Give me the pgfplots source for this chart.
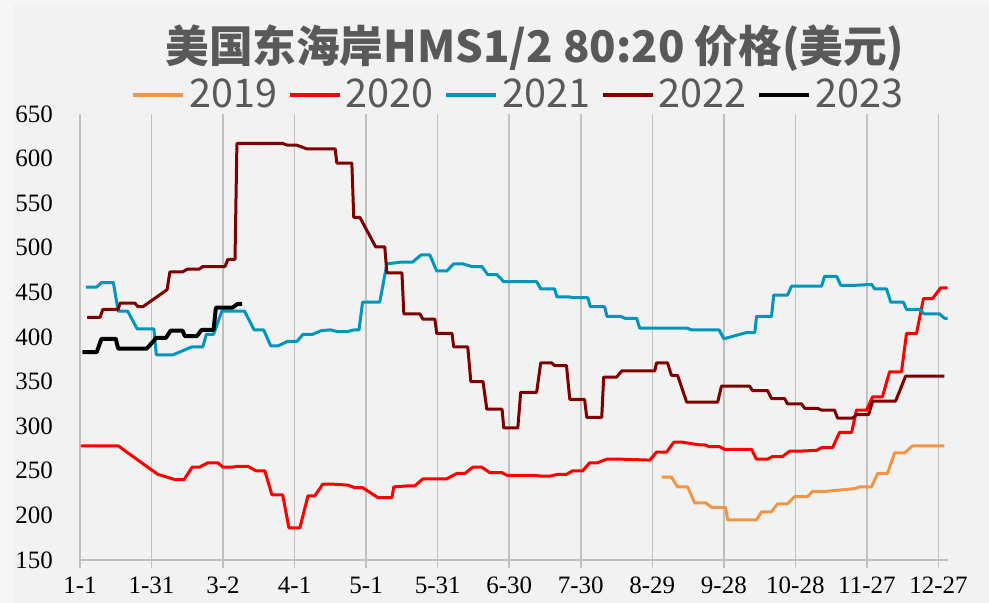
\documentclass[border=0pt]{standalone}
\usepackage{fontspec}
\setmainfont{Liberation Serif}
\newfontfamily\cjk{Noto Sans CJK SC}
\usepackage{pgfplots}
\pgfplotsset{compat=1.18}
\definecolor{bgout}{HTML}{F6F6F6}
\definecolor{bgin}{HTML}{F2F2F2}
\definecolor{txtgray}{HTML}{595959}
\definecolor{gridgray}{HTML}{C0C0C0}
\definecolor{c2019}{RGB}{240,150,70}
\definecolor{c2020}{RGB}{255,0,0}
\definecolor{c2021}{RGB}{0,150,190}
\definecolor{c2022}{RGB}{128,0,0}
\definecolor{c2023}{RGB}{0,0,0}
\begin{document}
\begin{tikzpicture}
\path[use as bounding box, fill=bgout] (-40pt,-21.5pt) rectangle (454.5pt,280pt);
\fill[bgin] (-33.5pt,-21.5pt) rectangle (454.5pt,278pt);
\begin{axis}[
  width=434pt, height=223pt, scale only axis,
  xmin=0, xmax=364, ymin=150, ymax=650,
  xtick={0,30,...,360},
  xticklabels={1-1,1-31,3-2,4-1,5-1,5-31,6-30,7-30,8-29,9-28,10-28,11-27,12-27},
  ytick={150,200,...,650},
  xmajorgrids,
  grid style={color=gridgray, line width=0.8pt},
  axis x line*=bottom,
  axis y line*=left,
  y axis line style={draw=none},
  x axis line style={color=gridgray, line width=0.8pt, -},
  xtick style={color=gridgray, line width=0.8pt},
  ytick style={draw=none},
  tick align=outside,
  major tick length=4pt,
  /pgf/number format/assume math mode=true,
  ticklabel style={font=\fontsize{12.5}{14}\selectfont, text=black},
  xticklabel style={yshift=-1pt},
  yticklabel style={xshift=-6pt},
  legend columns=5,
  legend style={at={(0.506,1.043)}, anchor=center, draw=none, fill=none,
    font=\cjk\fontsize{19.8}{22}\selectfont, text=txtgray,
    /tikz/every even column/.append style={column sep=3.1pt}},
  legend cell align=left,
  legend image code/.code={\draw[#1, line width=2.2pt] (0pt,0pt) -- (25pt,0pt);},
  every axis plot/.append style={line width=1.5pt, line join=round},
  clip=false,
]
\addplot[c2019] coordinates {
(243.9,243)(248,243)(250.6,232)(254.8,232)(257.8,214)(262.4,214)(264.9,209)(270.7,209)
(271.6,195)(283.7,195)(285.8,204)(290,204)(292.5,213)(296.7,213)(299.7,221)(305,221)
(307.2,227)(313,227)(324.8,230)(326.9,232)(331.9,232)(334.5,247)(338.6,247)(341.6,270)
(345.8,270)(349.1,278)(362.5,278)};
\addlegendentry{2019}
\addplot[c2020] coordinates {
(0.4,278)(16,278)(30,251)(32.7,246)(40,240)(43.6,240)(47,254)(50,254)(53.6,259)(57.8,259)
(60,254)(63.7,254)(66,255)(70.4,255)(73.8,250)(77.5,250)(80.5,223)(85,223)(87.6,186)(92.2,186)
(95.6,222)(98.5,222)(101.8,235)(106,235)(112.3,234)(115.3,231)(118.6,231)(124.9,220)(130.8,220)
(131.6,232)(137,233)(140.4,233)(143.8,241)(153.8,241)(158,247)(161.4,247)(164.7,254)(168.5,254)
(171.8,248)(176.9,248)(179,245)(189.9,245)(193.6,244)(197,244)(200.3,246)(204,246)(206.6,250)
(210.8,250)(213.7,259)(217,259)(220.9,263)(227.2,263)(238.9,262)(241.8,271)(246,271)(249,282)
(252.7,282)(259.9,279)(262,279)(264,277)(268.2,277)(270.3,274)(281.6,274)(283.7,263)(288.3,263)
(290.4,266)(294.6,266)(297.6,272)(301.8,272)(308.9,273)(311,276)(315.6,276)(318.5,293)(323.6,293)
(325.6,318)(329.8,318)(332.4,333)(336.5,333)(339.5,361)(344.5,361)(346.6,404)(350.8,404)
(353.7,443)(357.5,443)(360.9,455)(363.8,455)};
\addlegendentry{2020}
\addplot[c2021] coordinates {
(2.5,456)(7,456)(9,461)(14,461)(16,429)(20,429)(24,409)(31,409)(32,380)(39,380)(47,389)(51.5,389)
(53,403)(56,403)(59.5,429)(69,429)(73,408)(77,408)(80,390)(83,390)(87,395)(91,395)(93.5,403)
(97.5,403)(101,407)(105,408)(108,406)(112,406)(115,408)(117,408)(118.5,439)(125.7,439)(128.7,482)
(135,484)(139.5,484)(143,492)(146.7,492)(149.6,474)(153.8,474)(156.7,482)(160.5,482)(164.3,479)
(168.5,479)(171,470)(174.8,470)(177.7,462)(191.5,462)(193.2,454)(199,454)(200,445)(205,445)
(207,444)(213,444)(214,434)(220,434)(221,423)(227,423)(228.4,421)(233.4,421)(234.7,410)(254.4,410)
(256.5,408)(268,408)(270,398)(279.5,405)(283,405)(283.7,423)(290,423)(290.9,447)(296.7,447)
(298.4,457)(311,457)(312.2,468)(317.3,468)(319,458)(325.6,458)(332,459)(333.2,454)(338.2,454)
(340,439)(345.3,439)(346.6,431)(352,431)(354,426)(360.4,426)(362.5,421)(363.8,421)};
\addlegendentry{2021}
\addplot[c2022] coordinates {
(3,422)(8.4,422)(9.6,431)(16,431)(16.8,438)(23,438)(24.3,434)(26.4,434)(36.5,453)(37.7,473)
(43,473)(45,476)(50,476)(51.5,479)(60.8,479)(62,487)(65,487)(65.8,617)(85,617)(87,615)(91,615)
(95,611)(107,611)(107.7,595)(114,595)(114.8,534)(117.4,534)(124,501)(127.8,501)(128.7,472)
(135,472)(135.8,426)(142.5,426)(143.8,420)(148.8,420)(149.6,404)(156,404)(156.7,389)(162.6,389)
(163.9,350)(169,350)(170.6,319)(177,319)(177.7,298)(183.6,298)(184.8,338)(191.5,338)(193.2,371)
(197.8,371)(199,368)(204,368)(205.4,330)(211.6,330)(212.5,310)(218.8,310)(219.6,355)(225,355)
(227.2,362)(241,362)(241.8,371)(246.4,371)(248,357)(250.6,357)(254.4,327)(267.4,327)(269,345)
(280.8,345)(282,340)(288.3,340)(290,331)(295.5,331)(296.7,325)(302.6,325)(303.9,320)(309.3,320)
(311,318)(316.4,318)(317.7,309)(324,309)(325.6,313)(330.7,313)(332.4,328)(342,328)(346.2,356)
(362.5,356)};
\addlegendentry{2022}
\addplot[c2023, line width=2pt] coordinates {
(1,383)(7,383)(9,398)(15,398)(16,387)(28,387)(32,399)(36,399)(38,407)(43,407)(44,401)(49,401)
(51,408)(56,408)(57,433)(64,433)(66,437)(68,437)};
\addlegendentry{2023}
\node[font=\cjk\bfseries\fontsize{21.8}{24}\selectfont, text=txtgray, anchor=center]
  at (rel axis cs:0.524,1.148) {美国东海岸HMS1/2 80:20 价格(美元)};
\end{axis}
\end{tikzpicture}
\end{document}
